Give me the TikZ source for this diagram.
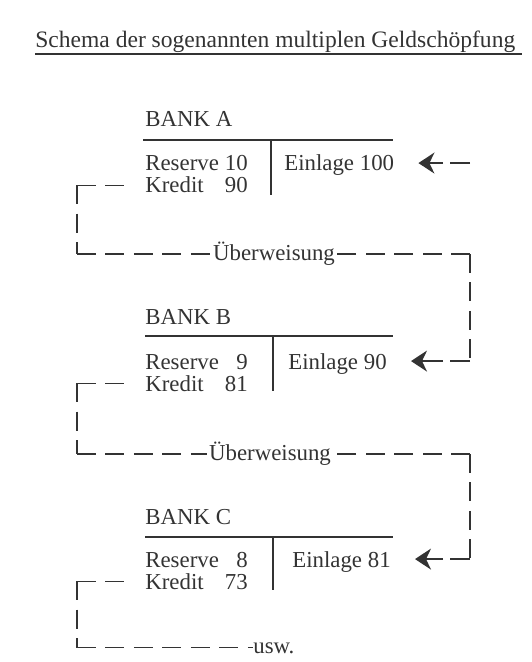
\documentclass[tikz,border=0pt]{standalone}
\usepackage{fontspec}
\setmainfont{Liberation Serif}
\usepackage{xcolor}
\usetikzlibrary{arrows.meta}

\definecolor{ink}{gray}{0.2}

\begin{document}
\begin{tikzpicture}[
    x=0.02cm, y=-0.02cm,
    txt/.style={anchor=base west, inner sep=0pt, text=ink, font=\fontsize{13}{15}\selectfont},
    acct/.style={txt, text depth=0pt},
    rule/.style={draw=ink, line width=1.3pt},
    transfer/.style={draw=ink, line width=0.65pt, dash pattern=on 0.38cm off 0.19cm},
    inflow/.style={draw=ink, line width=0.75pt, dash pattern=on 0.4cm off 0.14cm on 2cm,
        -{Stealth[length=3.2mm,width=4.2mm,inset=1mm]}, shorten >=0.48cm}
]
\useasboundingbox (0,0) rectangle (531,662);

% left and right dashed columns
\coordinate (lcol) at (77,0);
\coordinate (rcol) at (470,0);

\node[txt, font=\fontsize{13.4}{15}\selectfont] (title) at (35,48) {Schema der sogenannten multiplen Geldschöpfung};
\draw[ink, line width=1pt] ([yshift=-0.5pt]title.south west) -- ([yshift=-0.5pt,xshift=0.12cm]title.south east);

% Bank A
\node[txt] (bankA) at (145,127) {BANK A};
\node[acct] (resA) at (145,171) {\makebox[2.05cm][l]{Reserve\hfill 10}};
\node[acct] (krA) at (145,193) {\makebox[2.05cm][l]{Kredit\hfill 90}};
\node[acct] (einA) at (284,171) {Einlage 100};
\draw[rule] (143,140) -- (393,140);
\draw[rule] (271,140) -- (271,195);

% Bank B
\node[txt] (bankB) at (145,324) {BANK B};
\node[acct] (resB) at (145,369) {\makebox[2.05cm][l]{Reserve\hfill 9}};
\node[acct] (krB) at (145,391) {\makebox[2.05cm][l]{Kredit\hfill 81}};
\node[acct] (einB) at (288,369) {Einlage 90};
\draw[rule] (145,336) -- (393,336);
\draw[rule] (273,336) -- (273,391);

% Bank C
\node[txt] (bankC) at (145,524) {BANK C};
\node[acct] (resC) at (145,567) {\makebox[2.05cm][l]{Reserve\hfill 8}};
\node[acct] (krC) at (145,589) {\makebox[2.05cm][l]{Kredit\hfill 73}};
\node[acct] (einC) at (292,567) {Einlage 81};
\draw[rule] (145,537) -- (393,537);
\draw[rule] (273,537) -- (273,590);

% transfers
\node[txt, anchor=west, inner sep=1pt] (ubA) at (211,254) {Überweisung};
\node[txt, anchor=west, inner sep=1pt] (ubB) at (207,454) {Überweisung};
\node[txt] (usw) at (253,653) {usw.};

\draw[inflow] (einA.east -| rcol) -- (einA.east);

\draw[transfer] (krA.west -| lcol) -- ([xshift=-0.4cm]krA.west);
\draw[transfer] (krA.west -| lcol) -- (ubA.west -| lcol);
\draw[transfer] (ubA.west -| lcol) -- (ubA.west);
\draw[transfer] (ubA.east -| rcol) -- (ubA.east);
\draw[transfer] (ubA.east -| rcol) -- (einB.east -| rcol);
\draw[inflow] (einB.east -| rcol) -- (einB.east);

\draw[transfer] (krB.west -| lcol) -- ([xshift=-0.4cm]krB.west);
\draw[transfer] (krB.west -| lcol) -- (ubB.west -| lcol);
\draw[transfer] (ubB.west -| lcol) -- (ubB.west);
\draw[transfer] (ubB.east -| rcol) -- (ubB.east);
\draw[transfer] (ubB.east -| rcol) -- (einC.east -| rcol);
\draw[inflow] (einC.east -| rcol) -- (einC.east);

\draw[transfer] (krC.west -| lcol) -- ([xshift=-0.4cm]krC.west);
\draw[transfer] (krC.west -| lcol) -- (usw.west -| lcol);
\draw[transfer] (usw.west -| lcol) -- (usw.west);

\end{tikzpicture}
\end{document}
